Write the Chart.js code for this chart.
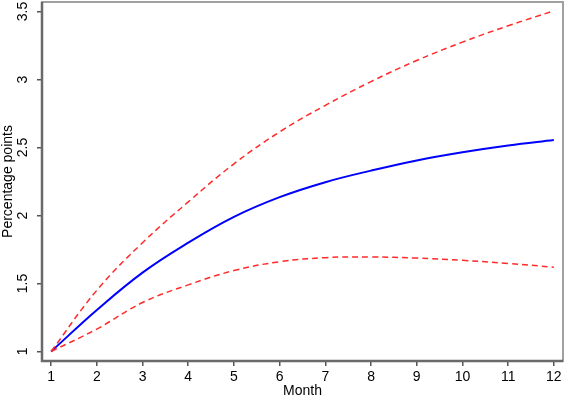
<!DOCTYPE html>
<html>
<head>
<meta charset="utf-8">
<script src="https://cdn.jsdelivr.net/npm/chart.js@4"></script>
<style>
  html, body { margin: 0; padding: 0; background: #fff; }
  #wrap { width: 565px; height: 399px; }
</style>
</head>
<body>
<div id="wrap"><canvas id="irf-chart"></canvas></div>
<script>
const months = [1, 2, 3, 4, 5, 6, 7, 8, 9, 10, 11, 12];
const central = [1.0, 1.305, 1.58, 1.80, 1.99, 2.135, 2.245, 2.33, 2.405, 2.465, 2.515, 2.555];
const upper = [1.0, 1.45, 1.80, 2.10, 2.38, 2.615, 2.81, 2.985, 3.14, 3.275, 3.395, 3.505];
const lower = [1.0, 1.165, 1.36, 1.49, 1.595, 1.66, 1.69, 1.695, 1.687, 1.67, 1.647, 1.62];
const yTicks = [1, 1.5, 2, 2.5, 3, 3.5];

const FONT = "'Liberation Sans', Arial, sans-serif";

const toPoints = (vals) => vals.map((v, i) => ({ x: months[i], y: v }));

// draws frame, rotated y labels and axis titles
const framePlugin = {
  id: 'frame',
  afterDraw(chart) {
    const { ctx, chartArea: a, scales } = chart;
    ctx.save();
    ctx.strokeStyle = '#a0a0a0';
    ctx.lineWidth = 2;
    ctx.strokeRect(a.left, a.top, a.right - a.left, a.bottom - a.top);
    ctx.strokeStyle = '#6a6a6a';
    ctx.lineWidth = 2.5;
    ctx.beginPath();
    ctx.moveTo(a.left, a.top);
    ctx.lineTo(a.left, a.bottom);
    ctx.lineTo(a.right, a.bottom);
    ctx.stroke();

    ctx.fillStyle = '#000';
    ctx.font = '14px ' + FONT;
    ctx.textAlign = 'center';
    ctx.textBaseline = 'middle';
    yTicks.forEach(t => {
      const y = scales.y.getPixelForValue(t);
      ctx.save();
      ctx.translate(23, y);
      ctx.rotate(-Math.PI / 2);
      ctx.fillText(String(t), 0, 0);
      ctx.restore();
    });

    ctx.save();
    ctx.translate(8, (a.top + a.bottom) / 2);
    ctx.rotate(-Math.PI / 2);
    ctx.fillText('Percentage points', 0, 0);
    ctx.restore();

    ctx.fillText('Month', (a.left + a.right) / 2, 391);
    ctx.restore();
  }
};

new Chart(document.getElementById('irf-chart'), {
  type: 'line',
  data: {
    datasets: [
      {
        data: toPoints(upper),
        borderColor: '#ff2a2a',
        borderWidth: 1.5,
        borderDash: [6, 4],
        pointRadius: 0,
        tension: 0.4
      },
      {
        data: toPoints(lower),
        borderColor: '#ff2a2a',
        borderWidth: 1.5,
        borderDash: [6, 4],
        pointRadius: 0,
        tension: 0.4
      },
      {
        data: toPoints(central),
        borderColor: '#0000ff',
        borderWidth: 2,
        pointRadius: 0,
        tension: 0.4
      }
    ]
  },
  options: {
    responsive: true,
    maintainAspectRatio: false,
    animation: false,
    layout: { padding: { top: 2, right: 2, left: 0, bottom: 0 } },
    plugins: {
      legend: { display: false },
      tooltip: { enabled: false }
    },
    scales: {
      x: {
        type: 'linear',
        min: 0.8,
        max: 12.2,
        afterBuildTicks: (s) => { s.ticks = months.map(v => ({ value: v })); },
        afterFit: (s) => { s.height = 38; },
        border: { display: false },
        grid: {
          drawOnChartArea: false,
          drawTicks: true,
          tickLength: 5,
          color: '#555',
          lineWidth: 1.5
        },
        ticks: {
          color: '#000',
          padding: 3,
          maxRotation: 0,
          font: { family: FONT, size: 14 }
        }
      },
      y: {
        type: 'linear',
        min: 0.93,
        max: 3.57,
        afterBuildTicks: (s) => { s.ticks = yTicks.map(v => ({ value: v })); },
        afterFit: (s) => { s.width = 42; },
        border: { display: false },
        grid: {
          drawOnChartArea: false,
          drawTicks: true,
          tickLength: 5,
          color: '#555',
          lineWidth: 1.5
        },
        ticks: { display: false }
      }
    }
  },
  plugins: [framePlugin]
});
</script>
</body>
</html>
